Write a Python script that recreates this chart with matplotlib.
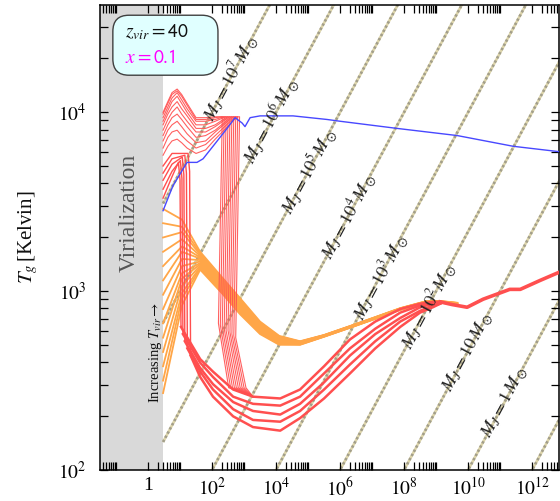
import numpy as np
import matplotlib
matplotlib.use("Agg")
import matplotlib.pyplot as plt
from matplotlib.patches import FancyBboxPatch
from matplotlib.ticker import FixedLocator, NullFormatter

plt.rcParams["mathtext.fontset"] = "stix"
plt.rcParams["font.family"] = ["Liberation Serif", "DejaVu Serif"]

# ---------------- axis ranges (log10 units) ----------------
logn_range = [-1.5, 12.84]
logT_range = [2.0, 4.6]
logn_vir = 0.47

x_major_exp = [0, 2, 4, 6, 8, 10, 12]
x_tick_labels = ["1", "$10^{2}$", "$10^{4}$", "$10^{6}$", "$10^{8}$", "$10^{10}$", "$10^{12}$"]
x_minor_decades = [-2, 0, 2, 4, 6, 8, 10, 12]
y_major_exp = [2, 3, 4]
y_tick_labels = ["$10^{2}$", "$10^{3}$", "$10^{4}$"]

# ---------------- Jeans-mass lines ----------------
mj_exp = [-1, 0, 1, 2, 3, 4, 5, 6, 7]
mj_label_exp = [0, 1, 2, 3, 4, 5, 6, 7]
mj_label_logT = [2.38, 2.66, 2.92, 3.08, 3.42, 3.67, 3.95, 4.19]

# ---------------- blue curve ----------------
blue_logn = [0.47, 0.78, 1.22, 1.53, 1.72, 2.03, 2.47, 2.72, 2.94, 3.03, 3.19, 3.5,
             4.53, 5.59, 6.0, 7.78, 9.66, 11.41, 12.84]
blue_logT = [3.45, 3.59, 3.72, 3.72, 3.74, 3.81, 3.91, 3.97, 3.94, 3.92, 3.97, 3.98,
             3.98, 3.96, 3.95, 3.91, 3.87, 3.81, 3.78]

# ---------------- red curves: fast-cooling group (A) ----------------
A_start = [3.52, 3.57, 3.62, 3.66, 3.70]
A_mid = [3.64, 3.67, 3.71, 3.74, 3.77]          # at log n = 0.75
A_level = [3.72, 3.73, 3.75, 3.76, 3.77]        # plateau before the drop
A_drop_logn = [1.00, 1.06, 1.12, 1.20, 1.30]
A_bstart = [2.80, 2.76, 2.72, 2.68, 2.64]
bundle_logn = [1.63, 2.03, 2.66, 3.28, 4.13, 4.75, 5.5, 6.31, 7.1, 7.88, 8.5, 8.9, 9.13]
A_bundle = [
    [2.62, 2.55, 2.45, 2.41, 2.40, 2.45, 2.58, 2.73, 2.83, 2.90, 2.93, 2.94, 2.94],
    [2.60, 2.52, 2.41, 2.37, 2.36, 2.41, 2.54, 2.68, 2.79, 2.88, 2.92, 2.93, 2.94],
    [2.57, 2.48, 2.38, 2.33, 2.31, 2.37, 2.49, 2.64, 2.76, 2.85, 2.91, 2.93, 2.94],
    [2.55, 2.45, 2.34, 2.28, 2.27, 2.33, 2.45, 2.59, 2.72, 2.83, 2.89, 2.92, 2.93],
    [2.52, 2.41, 2.30, 2.24, 2.22, 2.29, 2.40, 2.54, 2.68, 2.80, 2.88, 2.91, 2.93],
]

# ---------------- red curves: slow group (B) ----------------
B_logn = [0.47, 0.62, 0.75, 0.91, 1.05, 1.22, 1.5, 1.8, 2.1]
B_vals = [
    [3.76, 3.81, 3.84, 3.85, 3.83, 3.80, 3.77, 3.79, 3.850],
    [3.80, 3.86, 3.89, 3.90, 3.87, 3.84, 3.80, 3.82, 3.870],
    [3.84, 3.90, 3.93, 3.95, 3.92, 3.88, 3.83, 3.84, 3.890],
    [3.87, 3.93, 3.97, 3.99, 3.96, 3.92, 3.86, 3.87, 3.900],
    [3.90, 3.96, 4.00, 4.03, 3.99, 3.95, 3.89, 3.89, 3.920],
    [3.93, 3.99, 4.03, 4.06, 4.02, 3.98, 3.91, 3.91, 3.930],
    [3.95, 4.01, 4.06, 4.09, 4.05, 4.00, 3.93, 3.93, 3.950],
    [3.97, 4.03, 4.08, 4.11, 4.07, 4.02, 3.95, 3.95, 3.960],
    [3.99, 4.05, 4.10, 4.12, 4.09, 4.04, 3.96, 3.96, 3.970],
    [4.00, 4.06, 4.11, 4.13, 4.10, 4.05, 3.97, 3.97, 3.975],
]
B_drop_logn = [2.86, 2.80, 2.74, 2.68, 2.62, 2.56, 2.50, 2.44, 2.38, 2.32]
B_low = [2.74, 2.75, 2.76, 2.77, 2.78, 2.78, 2.79, 2.80, 2.81, 2.82]

red_tail_logn = [9.13, 9.5, 9.97, 10.47, 11.0, 11.3, 11.63, 12.25, 12.9]
red_tail_logT = [2.94, 2.925, 2.91, 2.955, 2.99, 3.01, 3.01, 3.06, 3.11]

# ---------------- orange curves ----------------
O_start = [3.46, 3.38, 3.30, 3.22, 3.14, 3.06, 2.98, 2.90, 2.82, 2.74, 2.66, 2.58, 2.50, 2.43]
O_mid = [3.40, 3.36, 3.33, 3.29, 3.25, 3.22, 3.18, 3.14, 3.10, 3.07, 3.03, 2.99, 2.96, 2.92]
O_frac = [1.0, 0.92, 0.85, 0.77, 0.69, 0.62, 0.54, 0.46, 0.38, 0.31, 0.23, 0.15, 0.08, 0.0]
band_logn = [1.63, 2.3, 2.88, 3.5, 4.1, 4.75, 5.5, 6.31, 7.1, 7.88, 8.5, 8.72, 9.13, 9.66]
band_top = [3.22, 3.08, 2.96, 2.83, 2.75, 2.72, 2.755, 2.805, 2.855, 2.905, 2.935, 2.945, 2.945, 2.935]
band_bot = [3.12, 2.99, 2.87, 2.76, 2.70, 2.70, 2.745, 2.795, 2.845, 2.895, 2.925, 2.935, 2.935, 2.925]

RED = "#ff4f4f"
ORANGE = "#ffa648"
BLUE = "#4848ff"


def p(v):
    return np.power(10.0, np.asarray(v, dtype=float))


fig = plt.figure(figsize=(5.6, 5.01), dpi=100)
ax = fig.add_axes([100 / 560, 31 / 501, 459 / 560, 465 / 501])
ax.set_xscale("log")
ax.set_yscale("log")
ax.set_xlim(p(logn_range[0]), p(logn_range[1]))
ax.set_ylim(p(logT_range[0]), p(logT_range[1]))

# virialization region
ax.axvspan(p(logn_range[0]), p(logn_vir), color="#d9d9d9", zorder=0, lw=0)

# Jeans lines
for e in mj_exp:
    n0 = 10 - 2 * e
    ln = np.array([logn_vir, logn_range[1] + 1])
    lT = 2 + (ln - n0) / 3.0
    ax.plot(p(ln), p(lT), color="#ddd5ab", lw=1.9, solid_capstyle="butt", zorder=1)
    ax.plot(p(ln), p(lT), color="#a29e8a", lw=1.9, dashes=(0.9, 0.9), zorder=1.1)

for e, lT in zip(mj_label_exp, mj_label_logT):
    n0 = 10 - 2 * e
    ln = n0 + 3 * (lT - 2)
    a = ax.transData.transform((p(ln - 0.5), p(lT - 0.5 / 3)))
    b = ax.transData.transform((p(ln + 0.5), p(lT + 0.5 / 3)))
    ang = np.degrees(np.arctan2(b[1] - a[1], b[0] - a[0]))
    if e == 0:
        s = r"$M_J = 1\,M_\odot$"
    elif e == 1:
        s = r"$M_J = 10\,M_\odot$"
    else:
        s = r"$M_J = 10^{%d}\,M_\odot$" % e
    ax.text(p(ln), p(lT), s, rotation=ang, rotation_mode="anchor", ha="center", va="center",
            fontsize=13, color="#222222", zorder=6)

# orange curves
for k in range(len(O_start)):
    f = O_frac[k]
    lT_band = [bb + (tt - bb) * f for tt, bb in zip(band_top, band_bot)]
    ln = [logn_vir, 1.06] + band_logn
    lT = [O_start[k], O_mid[k]] + lT_band
    ax.plot(p(ln), p(lT), color=ORANGE, lw=1.3, zorder=3)

# red group B
for k in range(len(B_vals)):
    xd = B_drop_logn[k]
    ln = B_logn + [xd - 0.08, xd, xd - 0.12, xd + 0.2, 3.28]
    lT = B_vals[k] + [3.975, 3.975, B_low[k], 2.46, 2.41]
    ax.plot(p(ln), p(lT), color=RED, lw=0.8, zorder=4, alpha=0.9)

# red group A
for j in range(len(A_start)):
    xd = A_drop_logn[j]
    ln = [logn_vir, 0.75, xd - 0.05, xd, xd + 0.03]
    lT = [A_start[j], A_mid[j], A_level[j], A_level[j] - 0.1, A_bstart[j]]
    ax.plot(p(ln), p(lT), color=RED, lw=1.0, zorder=4)
    ax.plot(p([xd + 0.03] + bundle_logn), p([A_bstart[j]] + A_bundle[j]), color=RED, lw=1.8,
            zorder=4)

ax.plot(p(red_tail_logn), p(red_tail_logT), color=RED, lw=2.6, zorder=4)

# blue
ax.plot(p(blue_logn), p(blue_logT), color=BLUE, lw=1.0, zorder=5)

# texts
ax.text(p(-0.59), p(3.44), "Virialization", rotation=90, ha="center", va="center",
        fontsize=17, color="#555555", zorder=6)
ax.text(p(0.22), p(2.66), r"Increasing $T_{vir}\rightarrow$", rotation=90, ha="center",
        va="center", fontsize=10.5, color="#111111", zorder=6)

box = FancyBboxPatch((0.028, 0.849), 0.229, 0.129, boxstyle="round,pad=0,rounding_size=0.035",
                     transform=ax.transAxes, facecolor="#e0ffff", edgecolor="#404040", lw=1.0,
                     zorder=7)
ax.add_patch(box)
ax.text(0.054, 0.942, r"$z_{vir} = \mathsf{40}$", transform=ax.transAxes, ha="left", va="center",
        fontsize=14, color="#111111", zorder=8)
ax.text(0.054, 0.886, r"$x = \mathsf{0.1}$", transform=ax.transAxes, ha="left", va="center",
        fontsize=14, color="#ff00ff", zorder=8)

# ticks
ax.xaxis.set_major_locator(FixedLocator(list(p(x_major_exp))))
ax.set_xticklabels(x_tick_labels)
ax.xaxis.set_minor_locator(FixedLocator([m * 10.0 ** d for d in x_minor_decades for m in range(2, 11)]))
ax.xaxis.set_minor_formatter(NullFormatter())
ax.yaxis.set_major_locator(FixedLocator(list(p(y_major_exp))))
ax.set_yticklabels(y_tick_labels)
ax.yaxis.set_minor_locator(FixedLocator([m * 10.0 ** d for d in y_major_exp for m in range(2, 10)]))
ax.yaxis.set_minor_formatter(NullFormatter())
ax.tick_params(which="both", direction="in", top=True, right=True, length=6, width=0.9)
ax.tick_params(axis="x", which="major", labelsize=14, pad=5)
ax.tick_params(axis="y", which="major", labelsize=14, pad=10)
for sp in ax.spines.values():
    sp.set_linewidth(1.1)

fig.text(28 / 560, 1 - 237 / 501, r"$T_g\,$[Kelvin]", rotation=90, ha="center", va="center",
         fontsize=15, color="#111111")

fig.savefig("out.png", dpi=100)
